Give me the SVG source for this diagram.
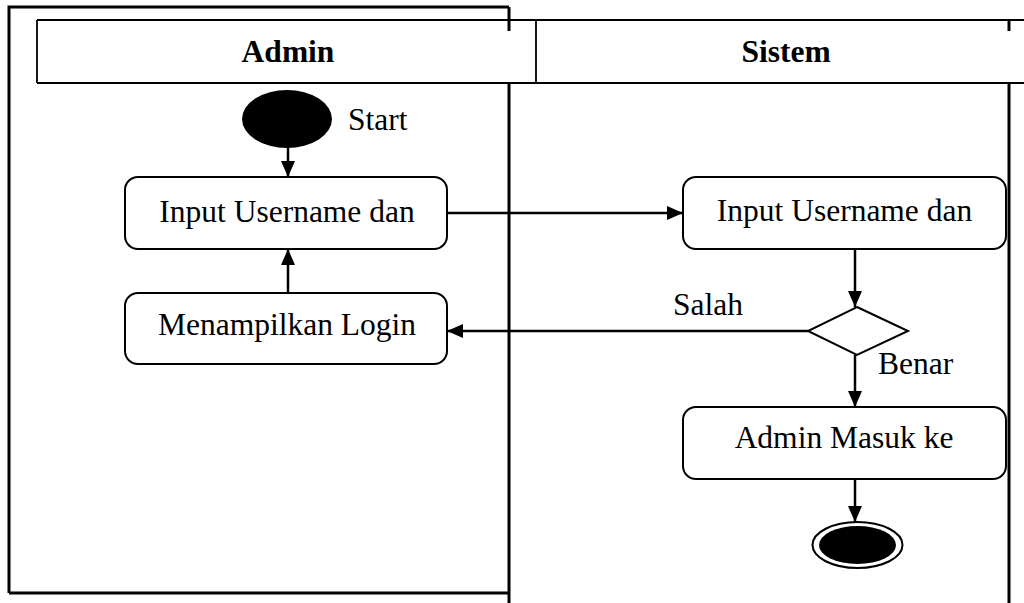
<svg xmlns="http://www.w3.org/2000/svg" width="1024" height="603" viewBox="0 0 1024 603">
<style>
.t{font-family:"Liberation Serif","Times New Roman",serif;font-size:31.5px;fill:#000}
.h{font-weight:bold;text-anchor:middle}
.box{fill:#fff;stroke:#000;stroke-width:2}
.lane{stroke:#000;stroke-width:3;fill:none}
.c{stroke:#000;stroke-width:2.5;fill:none}
</style>
<defs>
<marker id="ah" markerWidth="16" markerHeight="14" refX="16" refY="7" orient="auto" markerUnits="userSpaceOnUse">
<path d="M0,0 L16,7 L0,14 Z" fill="#000"/>
</marker>
</defs>
<rect x="0" y="0" width="1024" height="603" fill="#fff"/>
<g id="lanes">
<path class="lane" d="M9,593 V7 H509"/>
<path class="lane" d="M9,593 H509"/>
<path class="lane" d="M509,7 V31 M509,83 V603"/>
<path class="lane" d="M1009,20 V31 M1009,83 V603"/>
<path d="M37,20 H1024 M37,83 H1024 M37,20 V83 M536,20 V83" stroke="#000" stroke-width="1.8" fill="none"/>
<text class="t h" x="288" y="62">Admin</text>
<text class="t h" x="786" y="62">Sistem</text>
</g>
<g id="connectors">
<line class="c" x1="288" y1="148" x2="288" y2="177" marker-end="url(#ah)"/>
<line class="c" x1="447" y1="213" x2="683" y2="213" marker-end="url(#ah)"/>
<line class="c" x1="855" y1="249" x2="855" y2="307" marker-end="url(#ah)"/>
<line class="c" x1="808" y1="331" x2="447" y2="331" marker-end="url(#ah)"/>
<line class="c" x1="288" y1="293" x2="288" y2="249" marker-end="url(#ah)"/>
<line class="c" x1="855" y1="355" x2="855" y2="407" marker-end="url(#ah)"/>
<line class="c" x1="855" y1="479" x2="855" y2="522" marker-end="url(#ah)"/>
<text class="t" x="673" y="315">Salah</text>
<text class="t" x="878" y="374">Benar</text>
</g>
<g id="start">
<ellipse cx="287" cy="119" rx="45" ry="29" fill="#000"/>
<text class="t" x="348" y="130">Start</text>
</g>
<g id="input-admin">
<rect class="box" x="125" y="177" width="322" height="72" rx="13"/>
<text class="t" x="287" y="222" text-anchor="middle">Input Username dan</text>
</g>
<g id="menampilkan-login">
<rect class="box" x="125" y="293" width="322" height="71" rx="13"/>
<text class="t" x="287" y="335" text-anchor="middle">Menampilkan Login</text>
</g>
<g id="input-sistem">
<rect class="box" x="683" y="177" width="323" height="72" rx="13"/>
<text class="t" x="844.5" y="221" text-anchor="middle">Input Username dan</text>
</g>
<g id="decision">
<polygon points="857,307 908,331 857,355 808,331" fill="#fff" stroke="#000" stroke-width="2"/>
</g>
<g id="admin-masuk">
<rect class="box" x="683" y="407" width="323" height="72" rx="13"/>
<text class="t" x="844" y="448" text-anchor="middle">Admin Masuk ke</text>
</g>
<g id="end">
<ellipse cx="857.5" cy="545" rx="45" ry="23" fill="#fff" stroke="#000" stroke-width="2"/>
<ellipse cx="857.5" cy="545" rx="38.5" ry="19" fill="#000"/>
</g>
</svg>
